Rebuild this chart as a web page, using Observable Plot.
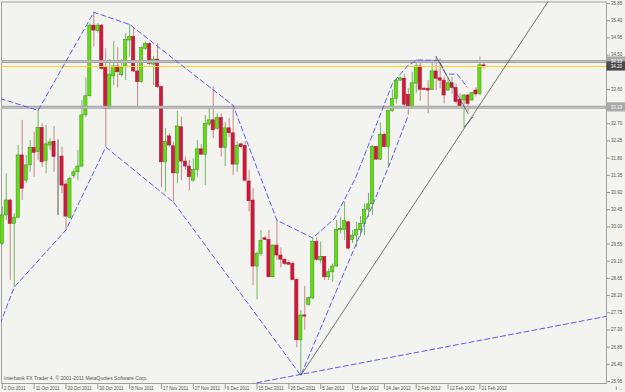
<!DOCTYPE html>
<html><head><meta charset="utf-8">
<script src="https://cdn.jsdelivr.net/npm/d3@7"></script>
<script src="https://cdn.jsdelivr.net/npm/@observablehq/plot@0.6"></script>
<style>
html,body{margin:0;padding:0;background:#f3f4ef;}
</style></head><body><div id="chart"></div>
<script>
// Daily candles, 2 Oct 2011 .. 22 Feb 2012 (bar index 0..121)
const openP = [29.56,30.30,30.69,30.08,30.24,31.87,31.21,31.61,32.07,31.96,32.59,31.72,32.13,32.23,31.84,31.84,31.11,30.24,31.33,31.43,31.58,32.92,33.42,35.27,35.13,35.27,34.16,33.09,33.94,34.20,33.97,34.18,34.88,34.97,34.07,33.79,34.66,34.79,34.25,34.38,33.66,31.69,32.37,32.11,31.40,32.61,31.71,31.58,31.21,31.49,32.03,31.89,32.68,32.79,32.57,32.85,32.07,32.58,32.45,31.63,32.16,32.12,31.19,30.69,28.96,29.29,29.70,29.66,28.68,29.51,29.25,29.14,29.05,29.03,28.61,27.03,27.68,27.96,28.13,29.60,29.12,29.21,28.68,28.81,28.96,29.91,29.92,30.12,29.66,29.77,29.91,30.08,30.45,30.59,32.09,31.76,32.41,32.09,33.03,33.35,33.83,33.88,33.46,33.14,33.75,34.20,33.62,33.62,33.59,34.07,33.89,33.83,33.57,33.76,33.64,33.33,33.31,33.44,33.31,33.57,33.48,34.23];
const highP = [30.52,31.39,30.73,30.34,32.13,32.79,31.87,32.26,32.48,33.05,32.70,32.66,32.31,32.63,32.28,32.09,31.21,31.30,31.52,32.00,33.31,33.90,35.32,35.62,35.32,35.30,34.66,34.38,34.86,34.69,34.38,35.06,35.30,35.21,34.31,34.71,34.84,34.82,34.46,34.79,33.68,32.57,32.44,32.22,33.02,32.87,31.83,31.74,31.78,32.26,32.16,32.92,33.15,33.66,32.96,32.96,32.74,32.83,33.18,32.22,32.19,32.22,31.48,31.00,29.34,29.91,29.75,29.91,29.53,30.17,29.45,29.16,29.12,29.08,28.64,27.81,28.44,28.16,29.71,29.71,29.60,29.22,28.90,29.03,30.17,30.25,30.65,30.15,29.91,30.12,30.27,30.60,30.88,32.13,32.11,32.72,32.45,33.05,33.59,33.88,33.92,33.99,33.62,34.05,34.38,34.36,33.64,33.83,34.36,34.46,34.40,33.92,33.90,33.92,33.75,33.49,33.47,33.47,33.53,33.64,34.45,34.29];
const lowP = [29.51,30.17,28.60,28.42,30.21,30.69,31.13,31.43,31.30,31.74,31.56,31.39,31.99,31.43,30.30,30.87,29.92,30.21,31.26,31.21,31.56,32.87,33.40,34.71,35.08,34.10,32.09,33.07,33.70,33.64,33.92,33.83,34.44,34.05,33.09,33.76,34.62,34.23,33.70,33.62,31.02,30.91,32.09,30.65,31.13,31.21,31.48,30.94,31.17,31.30,31.87,31.08,32.63,32.31,32.53,31.83,31.58,32.35,31.35,31.43,32.04,31.17,30.39,28.46,28.09,29.22,29.64,28.67,28.67,29.12,28.93,28.99,28.99,28.60,26.83,26.11,27.29,27.92,28.09,29.10,29.03,28.60,28.60,28.55,28.95,29.82,29.64,29.40,29.56,29.47,29.73,29.77,30.25,30.30,31.74,31.74,32.07,31.56,33.00,33.22,33.81,33.14,32.92,33.09,33.50,33.29,33.57,32.96,33.57,33.57,33.62,33.22,33.55,33.47,33.22,33.12,32.61,33.00,33.29,33.40,33.44,34.13];
const closeP = [30.30,30.69,30.08,30.24,31.87,31.00,31.61,32.07,31.94,32.59,31.69,32.16,32.21,31.83,31.84,31.08,30.27,31.26,31.43,31.58,32.92,33.42,35.27,35.14,35.27,34.14,33.09,33.99,34.20,34.05,34.18,34.90,34.97,34.07,33.79,34.68,34.79,34.27,34.38,33.66,31.69,32.22,32.13,31.40,32.63,31.71,31.58,31.30,31.49,32.03,31.89,32.70,32.79,32.53,32.85,32.07,32.58,32.45,31.63,32.12,32.09,31.21,30.67,28.96,29.29,29.63,29.66,28.68,29.51,29.25,29.14,29.03,29.01,28.61,27.03,27.68,27.65,28.13,29.60,29.14,29.21,28.68,28.81,28.96,29.92,29.95,30.15,29.43,29.77,29.92,30.08,30.45,30.59,32.09,31.76,32.41,32.09,33.03,33.35,33.83,33.89,33.20,33.14,33.76,34.20,33.59,33.59,33.57,34.07,33.88,33.83,33.44,33.76,33.64,33.27,33.14,33.44,33.22,33.50,33.47,34.23,34.19];

const dateTickBars = [0,8,16,24,32,40,48,56,64,72,80,88,96,104,112,120];
const dateLabels = ["2 Oct 2011","11 Oct 2011","20 Oct 2011","30 Oct 2011","8 Nov 2011","17 Nov 2011","27 Nov 2011","6 Dec 2011","15 Dec 2011","26 Dec 2011","5 Jan 2012","15 Jan 2012","24 Jan 2012","2 Feb 2012","12 Feb 2012","21 Feb 2012"];
const priceTicks = [35.85,35.40,34.95,34.50,33.60,32.70,32.25,31.80,31.35,30.90,30.45,30.00,29.55,29.10,28.65,28.20,27.75,27.30,26.85,26.40,25.95];

const levelLines = [34.33, 33.13];
const bidPrice = 34.20;

// hand-drawn objects: [bar index, price]
const upperPath = [[-0.5,33.36],[9,33.05],[23,35.62],[32,35.30],[58,33.18],[69,30.17],[78,29.71],[83.5,30.22],[88.8,31.29],[98,33.75],[101.8,34.22],[104.3,34.37],[109.7,34.36],[111.4,34.0],[114.3,34.0],[116.8,33.66]];
const lowerPath = [[-0.5,27.47],[3,28.42],[16,29.92],[26,32.09],[43,30.65],[75,26.11],[97,31.56],[102,32.92]];
const baseDash = [[60,25.84],[152,27.66]];
const trendLine = [[75,26.11],[137.3,35.93]];
const channelLine = [[109,34.46],[117,32.97]];
const shortLine = [[116,32.61],[118.2,32.87]];

const bars = openP.map((o,i)=>({i, o, h:highP[i], l:lowP[i], c:closeP[i]}));
const up = d => d.c > d.o, dn = d => d.c < d.o;
const blueDash = {x: d => d[0], y: d => d[1], stroke: "#5c5cf5", strokeWidth: 1, strokeDasharray: "5,3", clip: true};
const blackLine = {x: d => d[0], y: d => d[1], stroke: "#4a4a4a", strokeWidth: 0.75, clip: true};

const chart = Plot.plot({
  width: 625, height: 392,
  marginLeft: 1, marginRight: 19, marginTop: 1.5, marginBottom: 9,
  x: {type: "linear", domain: [-0.2, 151.8], axis: null},
  y: {domain: [25.898, 35.889], axis: null},
  color: {type: "identity"},
  style: {background: "#f3f4ef", fontFamily: "Liberation Sans, Arial, sans-serif", fontSize: "4.5px", overflow: "visible"},
  marks: [
    Plot.frame({stroke: "#a0a0a0"}),
    Plot.ruleX(bars, {x: "i", y1: "l", y2: "h", stroke: d => up(d) ? "#74b466" : dn(d) ? "#c68585" : "#555", strokeWidth: 1}),
    Plot.rect(bars, {x1: d => d.i - 0.4, x2: d => d.i + 0.4, y1: d => Math.min(d.o, d.c), y2: d => Math.max(d.o, d.c),
      fill: d => up(d) ? "#66dd11" : dn(d) ? "#cc1a3a" : "#555", stroke: d => up(d) ? "#3d9a20" : dn(d) ? "#b01a35" : "#555", strokeWidth: 0.6}),
    Plot.ruleY(levelLines, {stroke: "#a6a6a6", strokeWidth: 3}),
    Plot.ruleY(levelLines, {stroke: "#c4c4c4", strokeWidth: 1}),
    Plot.ruleY([bidPrice], {stroke: "#ffd21f", strokeWidth: 1}),
    Plot.line(upperPath, blueDash),
    Plot.line(lowerPath, blueDash),
    Plot.line(baseDash, blueDash),
    Plot.line(trendLine, blackLine),
    Plot.line(channelLine, blackLine),
    Plot.line(shortLine, blackLine),
    Plot.axisY({anchor: "right", ticks: priceTicks, tickSize: 3, tickPadding: 1.5, tickFormat: d => d.toFixed(2), fontSize: 4.5, fill: "#555", stroke: "#999"}),
    Plot.axisX({anchor: "bottom", ticks: dateTickBars, tickSize: 6, tickFormat: () => "", stroke: "#999"}),
    Plot.text(dateTickBars, {x: d => d, frameAnchor: "bottom", dy: 5, dx: 1.5, text: (d, i) => dateLabels[i], textAnchor: "start", lineAnchor: "middle", fontSize: 4.5, fill: "#555"}),
    Plot.rect(levelLines, {x1: 151.9, x2: 156.8, y1: d => d - 0.12, y2: d => d + 0.12, fill: "#a9a9a9"}),
    Plot.rect([bidPrice], {x1: 151.9, x2: 156.8, y1: d => d - 0.12, y2: d => d + 0.12, fill: "#4a4a4a"}),
    Plot.text(levelLines.concat([bidPrice]), {x: 154.3, y: d => d, text: d => d.toFixed(2), fill: "white", fontSize: 4.5}),
    Plot.text(["Interbank FX Trader 4, © 2001-2011 MetaQuotes Software Corp."], {frameAnchor: "bottom-left", dx: 2.5, dy: -4, textAnchor: "start", fontSize: 5, fill: "#555"})
  ]
});
document.getElementById("chart").appendChild(chart);
</script>
</body></html>
